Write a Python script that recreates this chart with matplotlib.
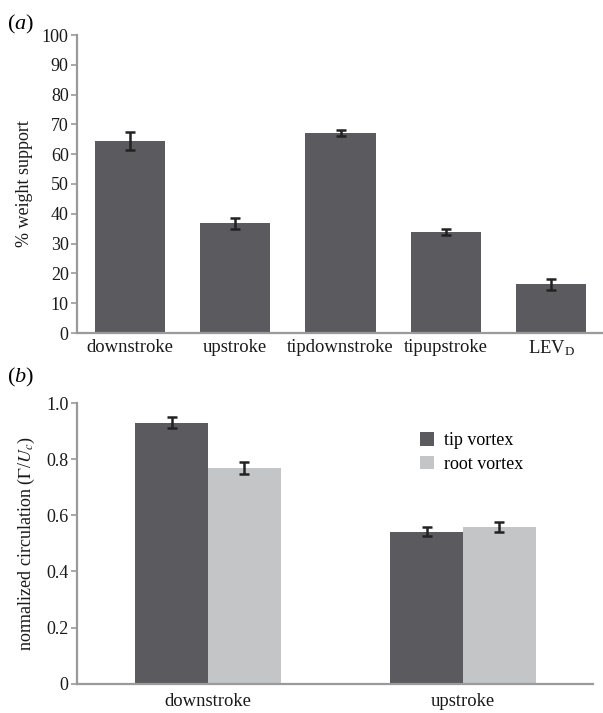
import matplotlib
matplotlib.use("Agg")
import matplotlib.pyplot as plt
import numpy as np

plt.rcParams['font.family'] = ['Liberation Serif', 'DejaVu Serif']
plt.rcParams['mathtext.fontset'] = 'custom'
plt.rcParams['mathtext.rm'] = 'Liberation Serif'
plt.rcParams['mathtext.it'] = 'Liberation Serif:italic'

# Panel (a) data
cats_a = ["downstroke", "upstroke", "tipdownstroke", "tipupstroke", r"LEV$_{\mathrm{D}}$"]
vals_a = [64.3, 36.8, 67.0, 33.8, 16.3]
errs_a = [3.0, 1.9, 1.0, 1.0, 1.8]

# Panel (b) data
cats_b = ["downstroke", "upstroke"]
tip_vals = [0.930, 0.542]
tip_errs = [0.020, 0.015]
root_vals = [0.768, 0.558]
root_errs = [0.022, 0.017]
series_b = ["tip vortex", "root vortex"]

dark = "#5b5b5f"
light = "#c4c5c7"
spine_c = "#9a9a9a"
err_c = "#222222"

W, H = 603, 713
fig = plt.figure(figsize=(W/100, H/100), dpi=100)

def style(ax):
    for s in ["top", "right"]:
        ax.spines[s].set_visible(False)
    for s in ["left", "bottom"]:
        ax.spines[s].set_color(spine_c)
        ax.spines[s].set_linewidth(1.6)
    ax.tick_params(axis='y', colors=spine_c, length=4, width=1.2, labelcolor='#1a1a1a', labelsize=13, pad=2)
    ax.tick_params(axis='x', length=0, labelcolor='#1a1a1a', labelsize=13.4)

# Panel a
ax1 = fig.add_axes([77/W, 1-333/H, 527/W, (333-35)/H])
x = np.arange(len(cats_a))
ax1.bar(x, vals_a, width=0.665, color=dark, zorder=2)
ax1.errorbar(x, vals_a, yerr=errs_a, fmt='none', ecolor=err_c, elinewidth=1.8, capsize=3.5, capthick=1.8, zorder=3)
ax1.set_xlim(-0.5, 4.5)
ax1.set_ylim(0, 100)
ax1.set_yticks(np.arange(0, 101, 10))
ax1.set_xticks(x)
ax1.set_xticklabels(cats_a)
ax1.tick_params(axis='x', pad=4)
ax1.set_ylabel("% weight support", fontsize=13, color='#1a1a1a', labelpad=6)
style(ax1)
fig.text(7/W, 1-24/H, r"($a$)", fontsize=16, va='center', ha='left')

# Panel b
ax2 = fig.add_axes([77/W, 1-683.7/H, (593-77)/W, (683.7-403)/H])
xb = np.arange(len(cats_b))
bw = 0.286
ax2.bar(xb - bw/2, tip_vals, width=bw, color=dark, label=series_b[0], zorder=2)
ax2.bar(xb + bw/2, root_vals, width=bw, color=light, label=series_b[1], zorder=2)
ax2.errorbar(xb - bw/2, tip_vals, yerr=tip_errs, fmt='none', ecolor=err_c, elinewidth=1.8, capsize=3.5, capthick=1.8, zorder=3)
ax2.errorbar(xb + bw/2, root_vals, yerr=root_errs, fmt='none', ecolor=err_c, elinewidth=1.8, capsize=3.5, capthick=1.8, zorder=3)
ax2.set_xlim(-0.514, 1.51)
ax2.set_ylim(0, 1.0)
ax2.set_yticks([0, 0.2, 0.4, 0.6, 0.8, 1.0])
ax2.set_yticklabels(["0", "0.2", "0.4", "0.6", "0.8", "1.0"])
ax2.set_xticks(xb)
ax2.set_xticklabels(cats_b)
ax2.tick_params(axis='x', pad=7)
ax2.set_ylabel(r"normalized circulation ($\mathit{\Gamma}$/$U_c$)", fontsize=13, color='#1a1a1a',
               labelpad=7, math_fontfamily='stix')
style(ax2)
leg = ax2.legend(loc='upper left', bbox_to_anchor=(336/516, 1-(425-403)/280.7), frameon=False,
                 fontsize=13, handlelength=0.75, handleheight=0.75, handletextpad=0.55, labelspacing=0.35,
                 borderaxespad=0)
fig.text(7/W, 1-377/H, r"($b$)", fontsize=16, va='center', ha='left')

fig.savefig("out.png", dpi=100)
